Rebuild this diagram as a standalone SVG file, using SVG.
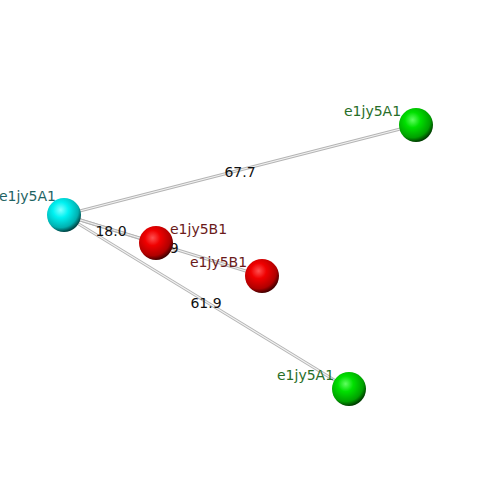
<svg xmlns="http://www.w3.org/2000/svg" width="500" height="500" viewBox="0 0 500 500">
<defs>
<radialGradient id="gc" cx="0.4" cy="0.35" r="0.65"><stop offset="0" stop-color="#7fffff"/><stop offset="0.35" stop-color="#00f2f2"/><stop offset="0.8" stop-color="#00b0b0"/><stop offset="1" stop-color="#004848"/></radialGradient>
<radialGradient id="gr" cx="0.4" cy="0.35" r="0.65"><stop offset="0" stop-color="#ff5050"/><stop offset="0.35" stop-color="#f00000"/><stop offset="0.8" stop-color="#b00000"/><stop offset="1" stop-color="#480000"/></radialGradient>
<radialGradient id="gg" cx="0.4" cy="0.35" r="0.65"><stop offset="0" stop-color="#60ff60"/><stop offset="0.35" stop-color="#00e000"/><stop offset="0.8" stop-color="#00a000"/><stop offset="1" stop-color="#004000"/></radialGradient>
</defs>
<style>
.e1{stroke:#b4b4b4;stroke-width:3;fill:none}
.e2{stroke:#f2f2f2;stroke-width:1.2;fill:none}
.el{font-family:"DejaVu Sans",sans-serif;font-size:14px;fill:#111;text-anchor:middle}
.nl{font-family:"DejaVu Sans",sans-serif;font-size:14px}
.c{fill:#1f6464}.r{fill:#6a1a1a}.g{fill:#286e28}
</style>
<rect width="500" height="500" fill="#fff"/>
<g id="connectors">
<line class="e1" x1="64" y1="215" x2="416" y2="125"/><line class="e2" x1="64" y1="215" x2="416" y2="125"/>
<line class="e1" x1="64" y1="215" x2="349" y2="389"/><line class="e2" x1="64" y1="215" x2="349" y2="389"/>
<line class="e1" x1="64" y1="215" x2="262" y2="276"/><line class="e2" x1="64" y1="215" x2="262" y2="276"/>
<line class="e1" x1="64" y1="215" x2="156" y2="243"/><line class="e2" x1="64" y1="215" x2="156" y2="243"/>
<text class="el" x="240" y="177">67.7</text>
<text class="el" x="206" y="308">61.9</text>
<text class="el" x="111" y="236">18.0</text>
<text class="el" x="163" y="253">38.9</text>
</g>
<g id="n1"><circle cx="64" cy="215" r="17" fill="url(#gc)"/><text class="nl c" x="56" y="201" text-anchor="end">e1jy5A1</text></g>
<g id="n2"><circle cx="156" cy="243" r="17" fill="url(#gr)"/><text class="nl r" x="170" y="234">e1jy5B1</text></g>
<g id="n3"><circle cx="262" cy="276" r="17" fill="url(#gr)"/><text class="nl r" x="190" y="267">e1jy5B1</text></g>
<g id="n4"><circle cx="416" cy="125" r="17" fill="url(#gg)"/><text class="nl g" x="344" y="116">e1jy5A1</text></g>
<g id="n5"><circle cx="349" cy="389" r="17" fill="url(#gg)"/><text class="nl g" x="277" y="380">e1jy5A1</text></g>
</svg>
